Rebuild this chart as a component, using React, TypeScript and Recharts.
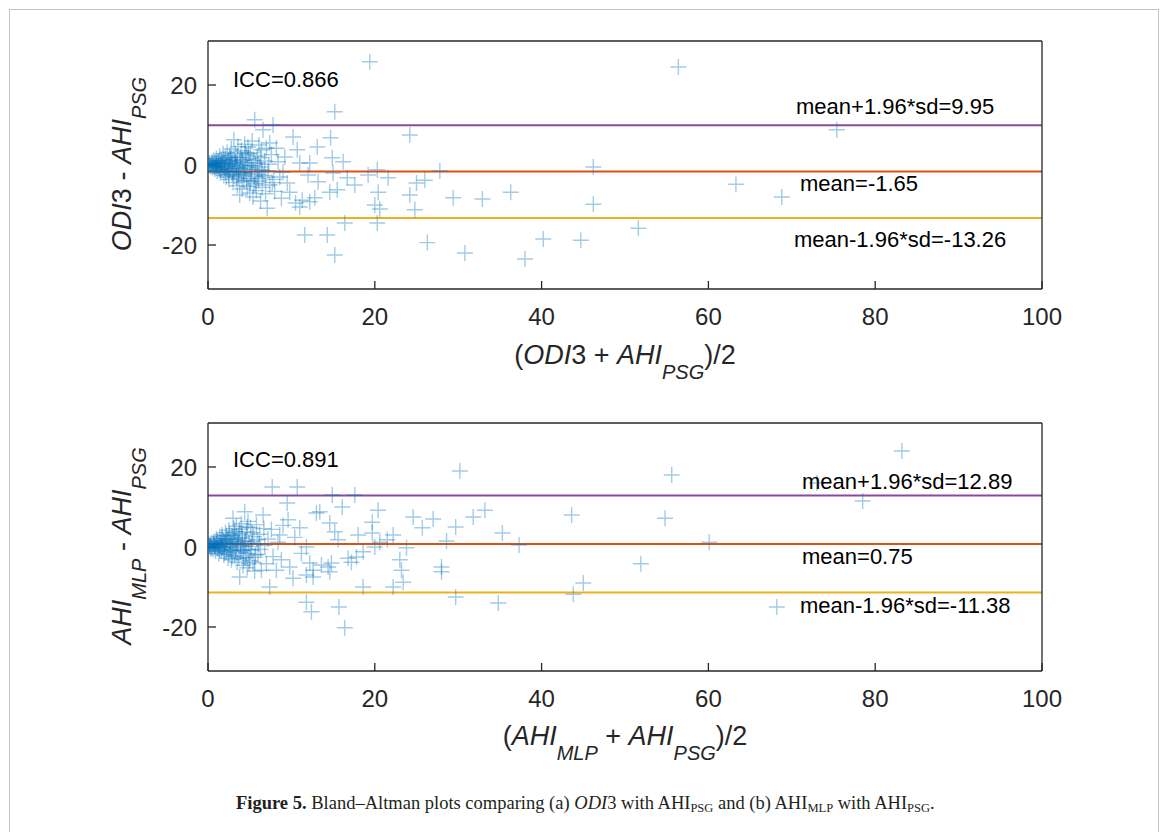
import React from 'react';
import { ScatterChart, Scatter, XAxis, YAxis, ReferenceLine } from 'recharts';

const xTicks = [0, 20, 40, 60, 80, 100];
const yTicks = [-20, 0, 20];
const xDomain = [0, 100];
const yDomain = [-31, 31];

// (mean, difference) pairs for ODI3 vs AHI_PSG
const odiPoints: [number, number][] = [
  [0.0, 0.0], [0.1, 0.2], [0.2, 0.5], [0.3, -0.4], [0.4, 0.0], [0.5, 0.8], [0.5, -0.6], [0.6, 0.2], [0.6, -0.2],
  [0.7, 1.2], [0.8, -1.0], [0.8, 0.6], [0.9, 0.4], [1.0, -0.2], [1.0, 0.0], [1.0, 1.6], [1.1, -1.5], [1.2, 0.8],
  [1.2, -0.4], [1.3, -0.7], [1.4, 2.2], [1.4, -0.9], [1.5, -2.0], [1.5, 0.3], [1.6, 1.1], [1.6, 0.2], [1.7, -1.2],
  [1.8, 2.8], [1.8, -0.5], [1.9, -2.6], [2.0, 0.5], [2.0, -0.8], [2.1, 1.8], [2.2, -3.0], [2.2, 0.0], [2.3, 3.2],
  [2.4, -1.6], [2.4, 1.2], [2.5, 0.9], [2.5, -3.6], [2.6, 2.4], [2.6, -1.0], [2.7, -0.3], [2.8, 4.0], [2.8, 0.4],
  [2.9, -2.2], [3.0, 1.4], [3.0, -4.4], [3.0, -1.5], [3.1, 6.3], [3.2, -0.9], [3.2, 1.0], [3.3, 2.9], [3.4, -3.1],
  [3.4, -0.5], [3.5, 0.2], [3.5, -5.2], [3.6, 4.6], [3.6, -2.4], [3.7, -1.8], [3.8, -7.5], [3.8, 0.8], [3.9, 1.9],
  [4.0, -2.7], [4.0, 3.6], [4.1, -6.0], [4.2, 0.6], [4.2, -1.8], [4.3, -4.0], [4.4, 5.2], [4.4, -0.2], [4.5, -1.1],
  [4.6, 2.5], [4.6, -3.8], [4.7, -5.4], [4.8, 4.5], [4.8, 1.5], [4.9, -3.3], [5.0, 0.0], [5.0, -7.0], [5.1, 3.0],
  [5.2, -2.0], [5.2, -1.0], [5.3, 6.0], [5.4, -8.0], [5.5, 1.2], [5.6, 11.3], [5.6, -2.8], [5.7, -4.6], [5.8, -6.4],
  [5.9, 2.2], [6.0, -3.4], [6.0, 0.6], [6.1, 5.0], [6.2, -0.5], [6.3, -9.0], [6.4, 3.8], [6.4, -1.2], [6.5, -5.6],
  [6.6, 8.8], [6.7, -2.6], [6.8, 1.0], [6.9, -7.2], [7.0, 4.2], [7.1, -10.8], [7.2, -1.4], [7.4, 5.5], [7.4, -5.0],
  [7.6, 2.6], [7.8, 10.0], [7.9, -3.6], [8.0, -6.6], [8.2, 4.2], [8.4, 0.8], [8.6, -3.0], [8.8, -8.3], [9.0, -1.8],
  [9.2, 2.0], [9.5, -4.5], [9.8, -6.8], [10.2, 7.0], [10.5, -9.5], [10.7, 3.8], [11.0, 0.5], [11.0, -10.5],
  [11.3, -8.8], [11.6, -17.5], [12.0, -2.5], [12.2, 0.5], [12.2, -9.2], [12.8, -8.2], [13.1, 4.5], [13.2, -4.2],
  [14.3, -17.5], [14.6, -6.8], [14.7, 6.8], [14.9, 1.8], [15.0, -2.0], [15.2, 13.3], [15.2, -22.5], [15.5, -6.2],
  [16.2, 0.8], [16.4, -14.5], [16.7, -3.2], [17.6, -5.0], [19.2, -2.5], [19.4, 25.8], [20.0, -10.0], [20.3, -1.2],
  [20.3, -14.5], [20.4, -6.8], [20.6, -11.0], [21.6, -3.2], [24.2, 7.5], [24.2, -7.5], [24.8, -11.2], [25.0, -4.5],
  [26.0, -3.8], [26.3, -19.4], [27.8, -1.5], [29.4, -8.2], [30.8, -22.0], [32.9, -8.5], [36.3, -6.8], [38.0, -23.5],
  [40.2, -18.5], [44.7, -18.8], [46.2, -0.5], [46.2, -9.8], [51.6, -15.8], [56.4, 24.5], [63.3, -4.8], [68.8, -8.0],
  [75.4, 8.8],
  // extra points in the dense core
  [0.2, -0.1], [0.4, 0.3], [0.7, -0.3], [0.9, -0.6], [1.1, 0.5], [1.3, 1.0], [1.5, -1.2], [1.7, 0.6], [1.9, 1.4],
  [2.1, -1.8], [2.3, -0.4], [2.5, -2.4], [2.7, 1.8], [2.9, 0.0], [3.1, -2.8], [3.3, 0.5], [3.5, 2.0], [3.7, -3.4],
  [3.9, -0.8], [4.1, 1.2], [4.3, -2.2], [4.5, 3.2], [4.7, -0.6], [4.9, 2.8], [5.1, -4.2], [5.3, -0.2], [5.5, -5.0],
  [5.7, 0.4], [5.9, -2.4], [6.1, -4.0], [6.3, 1.8], [6.5, -1.6], [6.9, -3.0], [7.3, 0.2], [7.7, -4.4],
];

// (mean, difference) pairs for AHI_MLP vs AHI_PSG
const mlpPoints: [number, number][] = [
  [0.0, 0.3], [0.1, 0.0], [0.2, 0.6], [0.3, -0.2], [0.3, 0.4], [0.4, 1.0], [0.5, 0.0], [0.6, -0.6], [0.6, 0.9],
  [0.7, 1.4], [0.8, 0.4], [0.9, -1.0], [0.9, 0.2], [1.0, 0.8], [1.0, 2.0], [1.1, -0.4], [1.2, 1.2], [1.2, -0.2],
  [1.3, -1.6], [1.4, 2.6], [1.5, 0.2], [1.5, 1.0], [1.6, -0.8], [1.7, 3.0], [1.8, 1.6], [1.8, -0.4], [1.9, -2.0],
  [2.0, 0.6], [2.1, 3.6], [2.1, 0.9], [2.2, -1.2], [2.3, 2.0], [2.4, -2.8], [2.4, 1.8], [2.5, 4.2], [2.6, 0.0],
  [2.7, 1.4], [2.7, -0.8], [2.8, -3.2], [2.9, 2.8], [3.0, 7.2], [3.0, -0.6], [3.0, 1.0], [3.1, 4.6], [3.2, -2.2],
  [3.3, 1.8], [3.3, -1.0], [3.4, 5.2], [3.5, -3.8], [3.6, 0.8], [3.6, 2.4], [3.7, 3.4], [3.8, -7.5], [3.9, -1.4],
  [3.9, 0.4], [4.0, 5.8], [4.1, 2.2], [4.2, -4.6], [4.2, -1.0], [4.3, 0.2], [4.4, 8.8], [4.5, -2.6], [4.5, 1.6],
  [4.6, 3.8], [4.7, -5.2], [4.8, 6.4], [4.8, -0.6], [4.9, 1.0], [5.0, -3.4], [5.1, 4.8], [5.2, -0.8], [5.3, 1.4],
  [5.4, -3.8], [5.5, 2.6], [5.6, -6.0], [5.7, -2.0], [5.8, 5.6], [6.0, -1.8], [6.1, 0.8], [6.2, 3.2], [6.4, -5.8],
  [6.6, 8.0], [6.8, 0.4], [7.0, -4.2], [7.2, 2.0], [7.4, -10.0], [7.6, 4.4], [7.7, 15.0], [7.8, -2.4], [8.2, -5.8],
  [8.4, 1.2], [8.6, 3.0], [8.8, -3.2], [9.0, 5.4], [9.5, 11.0], [9.6, 6.8], [9.8, -5.0], [10.2, -7.8], [10.4, 2.4],
  [10.7, 15.0], [11.0, 4.8], [11.2, -1.6], [11.8, 0.0], [11.8, -7.0], [11.8, -13.8], [12.2, -4.0], [12.4, -16.2],
  [12.6, -5.8], [12.6, -7.5], [13.0, 8.5], [13.4, 8.8], [13.6, -4.5], [14.4, -5.0], [14.6, 6.0], [14.6, -6.2],
  [14.8, -4.0], [14.9, 13.0], [15.2, 3.8], [15.6, 1.8], [15.7, -15.0], [16.1, 10.0], [16.4, -20.2], [16.8, -2.8],
  [17.2, -3.8], [17.6, 13.0], [17.8, -2.5], [18.0, 3.0], [18.6, -1.2], [18.6, -10.0], [19.7, 6.2], [19.7, 3.5],
  [20.0, 0.0], [20.4, 9.2], [20.6, 1.2], [21.5, 1.8], [22.2, 3.0], [22.2, -10.0], [23.0, -3.2], [23.2, -5.8],
  [23.4, -8.8], [23.8, -0.2], [24.6, 7.5], [25.7, 4.8], [27.0, 7.0], [28.0, -5.0], [28.0, -6.2], [28.6, 1.5],
  [29.7, 5.0], [29.7, -12.5], [30.2, 19.0], [31.8, 7.5], [33.2, 9.2], [34.8, -14.0], [35.3, 3.5], [37.3, 0.5],
  [43.6, 8.0], [43.8, -11.8], [45.0, -9.0], [51.9, -4.2], [54.8, 7.2], [55.6, 18.0], [60.1, 1.2], [68.2, -15.0],
  [73.0, 16.0], [78.5, 11.5], [83.2, 24.0],
  // extra points in the dense core
  [0.2, 0.2], [0.4, -0.4], [0.7, 0.6], [0.8, -0.2], [1.1, 1.6], [1.3, 0.4], [1.4, -1.0], [1.6, 2.2], [1.7, 0.0],
  [1.9, 1.2], [2.0, -1.4], [2.2, 2.8], [2.3, 0.2], [2.5, -1.8], [2.6, 3.2], [2.8, 0.8], [2.9, -2.4], [3.1, 2.0],
  [3.2, 3.8], [3.4, -0.2], [3.5, 1.2], [3.7, -2.8], [3.8, 4.4], [4.0, -0.8], [4.1, 3.0], [4.3, -3.0], [4.4, 1.4],
  [4.6, -1.6], [4.7, 5.0], [4.9, -4.2], [5.1, 0.2], [5.3, 3.6], [5.6, -2.6], [5.9, 1.8], [6.3, -0.6], [6.7, 4.6],
];

// upper limit, mean, lower limit
const odiLimits = [9.95, -1.65, -13.26];
const mlpLimits = [12.89, 0.75, -11.38];
const iccValues = ['0.866', '0.891'];
const limitColors = ['#8A4A9B', '#D95319', '#EDB120'];

const AXIS = '#262626';
const SANS = '"Liberation Sans", Arial, Helvetica, sans-serif';

const Plus = (props: any) => {
  const { cx, cy } = props;
  if (cx == null || cy == null) return <g />;
  return (
    <path
      d={`M${cx - 8},${cy}H${cx + 8}M${cx},${cy - 8}V${cy + 8}`}
      stroke="#0072BD"
      strokeOpacity={0.36}
      strokeWidth={1.4}
      fill="none"
    />
  );
};

const Empty = () => <g />;

function BAPlot({ points, limits, top }: { points: [number, number][]; limits: number[]; top: number }) {
  const data = points.map(([x, y]) => ({ x, y }));
  const tickStyle = { fontSize: 24, fill: AXIS, fontFamily: SANS };
  return (
    <div style={{ position: 'absolute', left: 0, top }}>
      <ScatterChart width={1170} height={330} margin={{ top: 21, right: 118, bottom: 11, left: 168 }}>
        <XAxis
          xAxisId="b"
          type="number"
          dataKey="x"
          domain={xDomain}
          ticks={xTicks}
          orientation="bottom"
          height={40}
          tickSize={-8}
          tickMargin={27}
          allowDataOverflow
          stroke={AXIS}
          strokeWidth={1.3}
          tick={tickStyle}
          interval={0}
        />
        <XAxis
          xAxisId="t"
          type="number"
          dataKey="x"
          domain={xDomain}
          ticks={xTicks}
          orientation="top"
          height={10}
          tickSize={-8}
          allowDataOverflow
          stroke={AXIS}
          strokeWidth={1.3}
          tick={false}
          interval={0}
        />
        <YAxis
          yAxisId="l"
          type="number"
          dataKey="y"
          domain={yDomain}
          ticks={yTicks}
          orientation="left"
          width={40}
          tickSize={-8}
          tickMargin={19}
          allowDataOverflow
          stroke={AXIS}
          strokeWidth={1.3}
          tick={tickStyle}
          interval={0}
        />
        <YAxis
          yAxisId="r"
          type="number"
          dataKey="y"
          domain={yDomain}
          ticks={yTicks}
          orientation="right"
          width={10}
          tickSize={-8}
          allowDataOverflow
          stroke={AXIS}
          strokeWidth={1.3}
          tick={false}
          interval={0}
        />
        <Scatter data={data} xAxisId="t" yAxisId="r" shape={Empty} isAnimationActive={false} />
        <Scatter data={data} xAxisId="b" yAxisId="l" shape={Plus} isAnimationActive={false} />
        {limits.map((v, i) => (
          <ReferenceLine
            key={i}
            y={v}
            xAxisId="b"
            yAxisId="l"
            stroke={limitColors[i]}
            strokeWidth={2}
            ifOverflow="extendDomain"
          />
        ))}
      </ScatterChart>
    </div>
  );
}

const Sub = ({ children, dy = 15 }: { children: React.ReactNode; dy?: number }) => (
  <tspan fontSize={20} dy={dy} fontStyle="italic">{children}</tspan>
);

export default function App() {
  const fmt = (v: number) => v.toFixed(2);
  const annot = (x: number, y: number, s: string) => (
    <text x={x} y={y} fontSize={22} fontFamily={SANS} fill="#000">{s}</text>
  );
  return (
    <div style={{ position: 'absolute', left: 0, top: 0, width: 1170, height: 832, overflow: 'hidden', background: '#fff' }}>
      <div
        style={{
          position: 'absolute', left: 9, top: 9, width: 1150, height: 860,
          border: '1.5px solid #c4c4c4', boxSizing: 'border-box',
        }}
      />
      <BAPlot points={odiPoints} limits={odiLimits} top={10} />
      <BAPlot points={mlpPoints} limits={mlpLimits} top={392} />
      <svg width={1170} height={832} style={{ position: 'absolute', left: 0, top: 0, pointerEvents: 'none' }}>
        {/* top panel annotations */}
        {annot(233, 87, `ICC=${iccValues[0]}`)}
        {annot(796, 114, `mean+1.96*sd=${fmt(odiLimits[0])}`)}
        {annot(800, 191, `mean=${fmt(odiLimits[1])}`)}
        {annot(794, 247, `mean-1.96*sd=${fmt(odiLimits[2])}`)}
        {/* bottom panel annotations */}
        {annot(233, 467, `ICC=${iccValues[1]}`)}
        {annot(802, 489, `mean+1.96*sd=${fmt(mlpLimits[0])}`)}
        {annot(802, 564, `mean=${fmt(mlpLimits[1])}`)}
        {annot(800, 613, `mean-1.96*sd=${fmt(mlpLimits[2])}`)}

        {/* y labels */}
        <text transform="translate(131,164) rotate(-90)" textAnchor="middle" fontSize={27} fontFamily={SANS} fill={AXIS}>
          <tspan fontStyle="italic">ODI</tspan>
          <tspan>3 - </tspan>
          <tspan fontStyle="italic">AHI</tspan>
          <Sub>PSG</Sub>
        </text>
        <text transform="translate(131,546) rotate(-90)" textAnchor="middle" fontSize={27} fontFamily={SANS} fill={AXIS}>
          <tspan fontStyle="italic">AHI</tspan>
          <Sub>MLP</Sub>
          <tspan dy={-15}> - </tspan>
          <tspan fontStyle="italic">AHI</tspan>
          <Sub>PSG</Sub>
        </text>

        {/* x labels */}
        <text x={625} y={364} textAnchor="middle" fontSize={27} fontFamily={SANS} fill={AXIS}>
          <tspan>(</tspan>
          <tspan fontStyle="italic">ODI</tspan>
          <tspan>3 + </tspan>
          <tspan fontStyle="italic">AHI</tspan>
          <Sub>PSG</Sub>
          <tspan dy={-15}>)/2</tspan>
        </text>
        <text x={625} y={745} textAnchor="middle" fontSize={27} fontFamily={SANS} fill={AXIS}>
          <tspan>(</tspan>
          <tspan fontStyle="italic">AHI</tspan>
          <Sub>MLP</Sub>
          <tspan dy={-15}> + </tspan>
          <tspan fontStyle="italic">AHI</tspan>
          <Sub>PSG</Sub>
          <tspan dy={-15}>)/2</tspan>
        </text>

        {/* caption */}
        <text x={236} y={809} fontSize={18.5} fontFamily='"Liberation Serif", "Times New Roman", serif' fill="#231f20">
          <tspan fontWeight="bold">Figure 5.</tspan>
          <tspan>{'  Bland–Altman plots comparing (a) '}</tspan>
          <tspan fontStyle="italic">ODI</tspan>
          <tspan>3 with AHI</tspan>
          <tspan fontSize={12.5} dy={3}>PSG</tspan>
          <tspan dy={-3}> and (b) AHI</tspan>
          <tspan fontSize={12.5} dy={3}>MLP</tspan>
          <tspan dy={-3}> with AHI</tspan>
          <tspan fontSize={12.5} dy={3}>PSG</tspan>
          <tspan dy={-3}>.</tspan>
        </text>
      </svg>
    </div>
  );
}
